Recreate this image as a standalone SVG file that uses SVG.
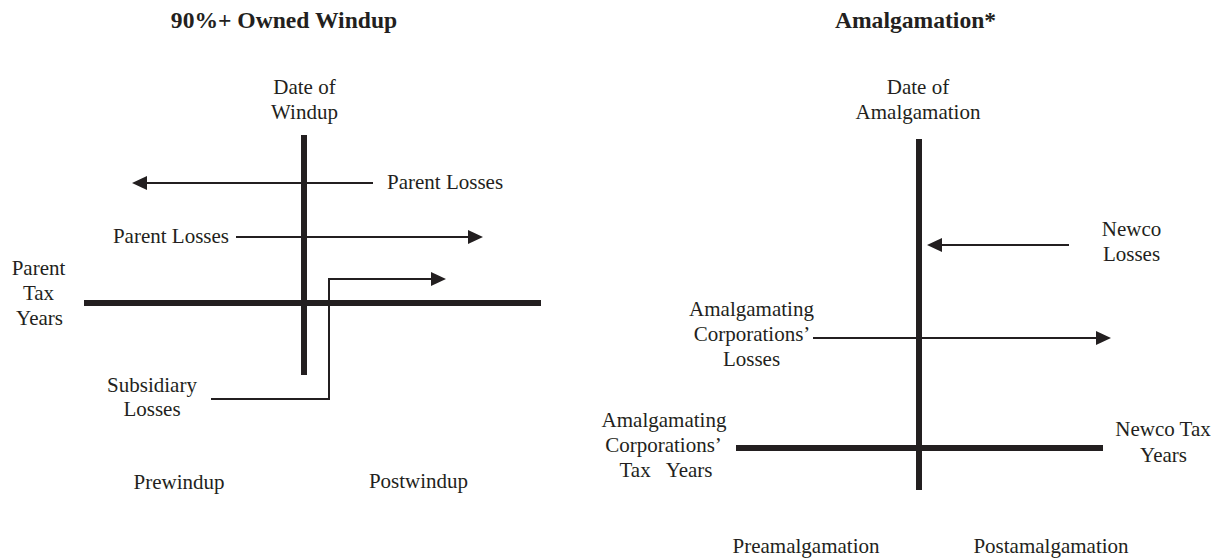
<svg xmlns="http://www.w3.org/2000/svg" width="1222" height="558" viewBox="0 0 1222 558">
<style>
text{font-family:"Liberation Serif","Times New Roman",serif;font-size:21px;fill:#231f20;text-anchor:middle}
.title{font-size:23.6px;font-weight:bold}
.thick{stroke:#231f20;stroke-width:6;fill:none}
.conn{stroke:#231f20;stroke-width:2;fill:none;marker-end:url(#ah)}
</style>
<defs>
<marker id="ah" viewBox="0 0 15 14" refX="11" refY="7" markerWidth="15" markerHeight="14" markerUnits="userSpaceOnUse" orient="auto">
<path d="M0,0 L15,7 L0,14 z" fill="#231f20"/>
</marker>
</defs>
<rect width="1222" height="558" fill="#ffffff"/>

<g id="windup">
<g id="title-windup"><text class="title" x="284" y="28">90%+ Owned Windup</text></g>
<g id="date-windup"><text x="304.5" y="94">Date of</text><text x="304.5" y="119">Windup</text></g>
<g id="parent-tax-years"><text x="38.5" y="275">Parent</text><text x="38.5" y="300">Tax</text><text x="39.5" y="325">Years</text></g>
<g id="parent-losses-1"><text x="387" y="189" style="text-anchor:start">Parent Losses</text></g>
<g id="parent-losses-2"><text x="229" y="243" style="text-anchor:end">Parent Losses</text></g>
<g id="subsidiary-losses"><text x="152" y="391.5">Subsidiary</text><text x="152" y="416">Losses</text></g>
<g id="prewindup"><text x="179" y="489">Prewindup</text></g>
<g id="postwindup"><text x="418.5" y="488">Postwindup</text></g>
<g id="axes-windup">
<line class="thick" x1="304" y1="135" x2="304" y2="375"/>
<line class="thick" x1="84" y1="303" x2="541" y2="303"/>
</g>
</g>

<g id="amalgamation">
<g id="title-amalgamation"><text class="title" x="915.5" y="27.5">Amalgamation*</text></g>
<g id="date-amalgamation"><text x="918" y="94">Date of</text><text x="918" y="118.5">Amalgamation</text></g>
<g id="newco-losses"><text x="1131.5" y="236">Newco</text><text x="1131.5" y="261">Losses</text></g>
<g id="amalg-losses"><text x="751.5" y="316">Amalgamating</text><text x="752" y="341">Corporations’</text><text x="751.5" y="366">Losses</text></g>
<g id="amalg-tax-years"><text x="664" y="427">Amalgamating</text><text x="663.5" y="452">Corporations’</text><text x="666" y="477" xml:space="preserve" style="white-space:pre">Tax   Years</text></g>
<g id="newco-tax-years"><text x="1163" y="436">Newco Tax</text><text x="1163.5" y="461.5">Years</text></g>
<g id="preamalgamation"><text x="806" y="553">Preamalgamation</text></g>
<g id="postamalgamation"><text x="1051" y="553">Postamalgamation</text></g>
<g id="axes-amalgamation">
<line class="thick" x1="919" y1="139" x2="919" y2="490"/>
<line class="thick" x1="736" y1="448" x2="1103" y2="448"/>
</g>
</g>

<g id="connectors">
<path class="conn" d="M373,183 H136"/>
<path class="conn" d="M236,237 H479"/>
<path class="conn" d="M211,399 H329 V279 H442"/>
<path class="conn" d="M1069,245 H931"/>
<path class="conn" d="M813,338 H1107"/>
</g>
</svg>
